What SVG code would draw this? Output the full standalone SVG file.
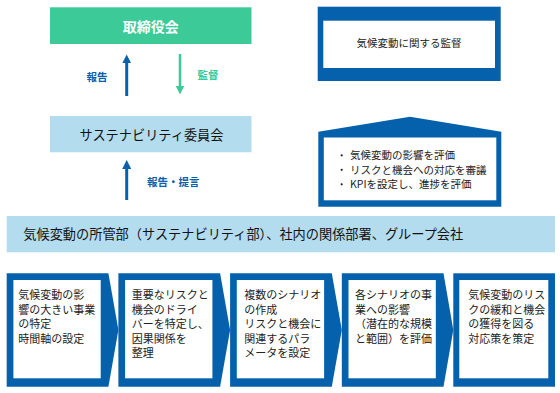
<svg xmlns="http://www.w3.org/2000/svg" width="560" height="393" viewBox="0 0 560 393">
<style>
  text { font-family: "Noto Sans CJK JP", "Noto Sans", sans-serif; }
  .blue { fill: #0561ab; }
  .green { fill: #3ccb98; }
  .light { fill: #b4dcef; }
  .white { fill: #ffffff; }
  .t { font-size: 11px; fill: #222222; }
  .b { font-size: 10.5px; fill: #222222; }
  .dot { fill: #222222; }
  .lbl { font-size: 10.5px; font-weight: bold; }
</style>
<defs>
  <marker id="headBlue" viewBox="0 0 10 10" refX="1" refY="5" markerWidth="9" markerHeight="9" markerUnits="userSpaceOnUse" orient="auto">
    <path d="M0,0 L10,5 L0,10 z" fill="#0561ab"/>
  </marker>
  <marker id="headGreen" viewBox="0 0 10 10" refX="1" refY="5" markerWidth="9" markerHeight="9" markerUnits="userSpaceOnUse" orient="auto">
    <path d="M0,0 L10,5 L0,10 z" fill="#3ccb98"/>
  </marker>
</defs>
<rect width="560" height="393" fill="#ffffff"/>

<g id="board">
  <rect class="green" x="50" y="7.3" width="201.5" height="36.7"/>
  <text x="150.8" y="31.5" text-anchor="middle" font-size="14" font-weight="bold" fill="#ffffff">取締役会</text>
</g>

<g id="committee">
  <rect class="light" x="50" y="116" width="201.5" height="36.3"/>
  <text x="151.5" y="139.5" text-anchor="middle" font-size="13.2" fill="#111111">サステナビリティ委員会</text>
</g>

<g id="oversight">
  <rect class="blue" x="317.7" y="6.7" width="183" height="74.3"/>
  <rect class="white" x="323.3" y="20.7" width="171.7" height="47.3"/>
  <text x="409" y="47" text-anchor="middle" class="b">気候変動に関する監督</text>
</g>

<g id="committee-roles">
  <path class="blue" d="M318.3,131.7 L410,116.7 L501.3,131.7 L501.3,206.7 L318.3,206.7 Z"/>
  <rect class="white" x="323.8" y="137.5" width="172.5" height="62.8"/>
  <circle class="dot" cx="341.7" cy="155.3" r="1.1"/>
  <text x="350" y="159" class="b">気候変動の影響を評価</text>
  <circle class="dot" cx="341.7" cy="169.8" r="1.1"/>
  <text x="350" y="173.5" class="b">リスクと機会への対応を審議</text>
  <circle class="dot" cx="341.7" cy="184.3" r="1.1"/>
  <text x="350" y="188" class="b">KPIを設定し、進捗を評価</text>
</g>

<g id="departments">
  <rect class="light" x="6.7" y="216" width="548.3" height="36.3"/>
  <text x="23.3" y="238.5" font-size="13.2" fill="#111111">気候変動の所管部（サステナビリティ部）、社内の関係部署、グループ会社</text>
</g>

<g id="step1">
  <path class="blue" d="M6.7,273.3 H108.4 L118.4,330 L108.4,386.7 H6.7 Z"/>
  <rect class="white" x="13.4" y="280" width="87.3" height="98.3"/>
  <text class="t" x="18.3" y="299">気候変動の影</text>
  <text class="t" x="18.3" y="313.5">響の大きい事業</text>
  <text class="t" x="18.3" y="328">の特定</text>
  <text class="t" x="18.3" y="342.5">時間軸の設定</text>
</g>

<g id="step2">
  <path class="blue" d="M118.4,273.3 H220.1 L230.1,330 L220.1,386.7 H118.4 Z"/>
  <rect class="white" x="125.1" y="280" width="87.3" height="98.3"/>
  <text class="t" x="131.7" y="299">重要なリスクと</text>
  <text class="t" x="131.7" y="313.5">機会のドライ</text>
  <text class="t" x="131.7" y="328">バーを特定し、</text>
  <text class="t" x="131.7" y="342.5">因果関係を</text>
  <text class="t" x="131.7" y="357">整理</text>
</g>

<g id="step3">
  <path class="blue" d="M230.1,273.3 H331.8 L341.8,330 L331.8,386.7 H230.1 Z"/>
  <rect class="white" x="236.8" y="280" width="87.3" height="98.3"/>
  <text class="t" x="244.3" y="299">複数のシナリオ</text>
  <text class="t" x="244.3" y="313.5">の作成</text>
  <text class="t" x="244.3" y="328">リスクと機会に</text>
  <text class="t" x="244.3" y="342.5">関連するパラ</text>
  <text class="t" x="244.3" y="357">メータを設定</text>
</g>

<g id="step4">
  <path class="blue" d="M341.8,273.3 H443.5 L453.3,330 L443.5,386.7 H341.8 Z"/>
  <rect class="white" x="348.5" y="280" width="87.3" height="98.3"/>
  <text class="t" x="355" y="299">各シナリオの事</text>
  <text class="t" x="355" y="313.5">業への影響</text>
  <text class="t" x="355" y="328">（潜在的な規模</text>
  <text class="t" x="355" y="342.5">と範囲）を評価</text>
</g>

<g id="step5">
  <rect class="blue" x="453.3" y="273.3" width="101.7" height="113.4"/>
  <rect class="white" x="459.3" y="280" width="89" height="98.3"/>
  <text class="t" x="468.3" y="299">気候変動のリス</text>
  <text class="t" x="468.3" y="313.5">クの緩和と機会</text>
  <text class="t" x="468.3" y="328">の獲得を図る</text>
  <text class="t" x="468.3" y="342.5">対応策を策定</text>
</g>

<g id="connectors">
  <line x1="126.7" y1="96" x2="126.7" y2="62.5" stroke="#0561ab" stroke-width="3" marker-end="url(#headBlue)"/>
  <text x="97" y="80.5" text-anchor="middle" class="lbl" fill="#0561ab">報告</text>
  <line x1="180" y1="54" x2="180" y2="86.5" stroke="#3ccb98" stroke-width="2.5" marker-end="url(#headGreen)"/>
  <text x="208" y="79" text-anchor="middle" class="lbl" fill="#3ccb98">監督</text>
  <line x1="126.7" y1="200" x2="126.7" y2="168" stroke="#0561ab" stroke-width="3" marker-end="url(#headBlue)"/>
  <text x="147" y="185.5" class="lbl" fill="#0561ab">報告・提言</text>
</g>
</svg>
